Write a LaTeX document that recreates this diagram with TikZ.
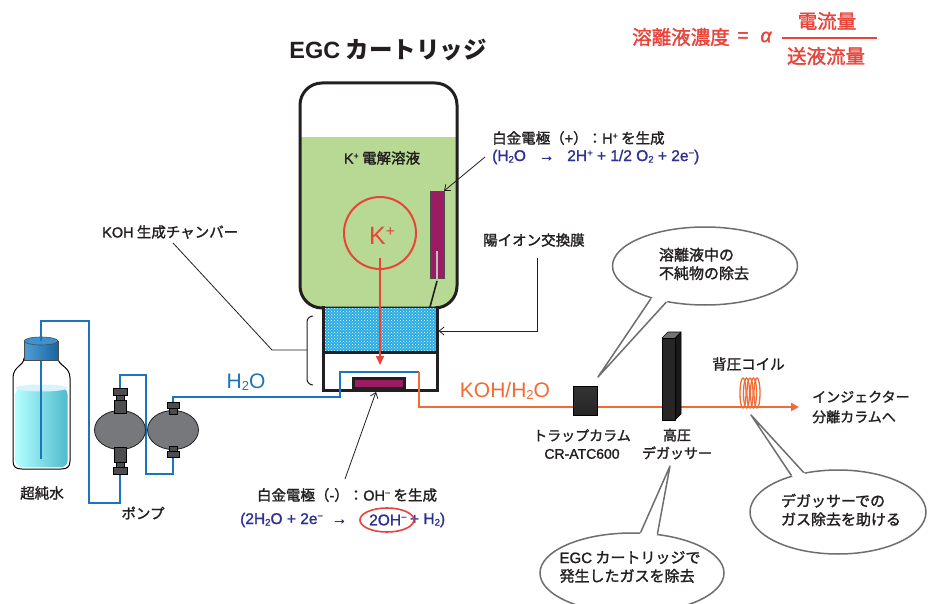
\documentclass[tikz,border=0pt]{standalone}
\usepackage{fontspec}
\usepackage{graphicx}
\setmainfont{Noto Sans CJK JP}
\newfontfamily\jpm{Noto Sans CJK JP}[FakeBold=1.6]
\newfontfamily\lat{Liberation Sans}
\newfontfamily\latm{Liberation Sans}[FakeBold=1.4]
\usetikzlibrary{arrows.meta,patterns,shapes.geometric,calc}

\definecolor{txt}{HTML}{231F20}
\definecolor{gel}{HTML}{B7D993}
\definecolor{mag}{HTML}{9B1C63}
\definecolor{kred}{HTML}{E9443A}
\definecolor{korange}{HTML}{F26B35}
\definecolor{tube}{HTML}{1C75BC}
\definecolor{navy}{HTML}{2E3192}
\definecolor{memb}{HTML}{27AAE1}
\definecolor{pumpgrey}{HTML}{77787B}
\definecolor{fitgrey}{HTML}{4D4D4F}
\definecolor{callgrey}{HTML}{6D6E71}

% Latin run inside Japanese text, raised and lowered indices
\newcommand\lx[1]{{\latm #1}}
\newcommand\upi[1]{\raisebox{0.6ex}{\scalebox{0.62}{#1}}}
\newcommand\dni[1]{\raisebox{-0.2ex}{\scalebox{0.62}{#1}}}

\begin{document}
\begin{tikzpicture}[x=1pt,y=-1pt,
  lbl/.style={font=\jpm\fontsize{14.5}{17}\selectfont, text=txt, inner sep=0pt},
  eqn/.style={font=\latm\fontsize{15.5}{18}\selectfont, text=navy, inner sep=0pt},
  formula/.style={font=\jpm\fontsize{19.5}{22}\selectfont, text=kred, inner sep=0pt},
  wall/.style={line width=3pt, draw=txt},
  leader/.style={line width=0.8pt, draw=txt},
  barb/.style={leader, -{Straight Barb[length=5pt,width=8pt]}},
  tubeline/.style={draw=tube, line width=2.5pt},
  eluent/.style={draw=korange, line width=2.5pt},
  fitting/.style={fill=fitgrey, draw=black, line width=0.6pt},
  callout/.style={ellipse, draw=callgrey, line width=1.5pt, fill=white, inner sep=0pt},
  tail/.style={draw=callgrey, line width=1.5pt, line join=round},
  calltext/.style={lbl, align=left, font=\jpm\fontsize{15}{18.5}\selectfont}
]
\clip (0,0) rectangle (931,604);
\fill[white] (0,0) rectangle (931,604);

% ---------- concentration formula ----------
\node[formula, anchor=west] (conc) at (632,37) {溶離液濃度};
\node[formula] (eqsign) at (743,37) {\lx{=}};
\node[formula] (alpha) at (766,37) {\lx{\itshape α}};
\coordinate (fracL) at (782,38);
\coordinate (fracR) at (877,38);
\draw[kred, line width=1.8pt] (fracL) -- (fracR);
\node[formula] (num) at (827,21) {電流量};
\node[formula] (den) at (826,56) {送液流量};

% ---------- EGC cartridge ----------
\node[font=\bfseries\fontsize{23.5}{27}\selectfont, text=txt, inner sep=0pt] (title) at (388,50) {{\lat\bfseries EGC} カートリッジ};

\begin{scope}
  \clip[rounded corners=22pt] (300,83) rectangle (457,308);
  \fill[gel] (300,137) rectangle (457,308);
\end{scope}
\draw[wall, rounded corners=22pt] (300,83) rectangle (457,308);
\node[lbl] (electrolyte) at (382,158) {\lx{K\upi{+}} 電解溶液};

% anode inside the cartridge
\node[fill=mag, draw=black!70, line width=0.8pt, minimum width=14pt, minimum height=87pt, inner sep=0pt, outer sep=0pt] (anode) at (437,234.5) {};
\draw[black!25, line width=1.6pt] (437,251) -- (437,280);
\coordinate (wireA) at (437,281);
\coordinate (wireB) at (430,307);
\draw[txt, line width=1.6pt] (wireA) -- (wireB);

% K+ ion
\node[circle, draw=kred, line width=2pt, minimum size=72pt, inner sep=0pt] (kcircle) at (380,233) {};
\node[text=kred, font=\lat\fontsize{25}{28}\selectfont, inner sep=0pt] (klabel) at (382,236) {K\upi{+}};

% KOH generation chamber
\fill[memb] (323,308) rectangle (437,352);
\fill[pattern=crosshatch dots, pattern color=white] (323,308) rectangle (437,352);
\draw[wall] (323,306) -- (323,390) -- (437,390) -- (437,306);
\draw[wall] (323,352) -- (437,352);
\node[fill=mag, draw=txt, line width=2.6pt, minimum width=51pt, minimum height=10.5pt, inner sep=0pt] (cathode) at (379,383.5) {};

\coordinate (kstart) at (380,258);
\coordinate (kend) at (380,365);
\draw[kred, line width=2pt, -{Triangle[length=9pt,width=8pt]}] (kstart) -- (kend);

% ---------- water bottle ----------
\draw[line width=1pt, fill=white] (24,358) .. controls (24,366) and (13,366) .. (13,378) -- (13,461)
  .. controls (13,467) and (16,469) .. (22,469) -- (61,469) .. controls (67,469) and (70,467) .. (70,461)
  -- (70,378) .. controls (70,366) and (58,366) .. (58,358);
\shade[left color=cyan!30!white, middle color=cyan!12!white, right color={rgb,255:red,80;green,186;blue,204}, rounded corners=6pt]
  (15.5,388) rectangle (67.5,467);
\fill[cyan!15!white] (41.5,388) ellipse [x radius=26pt, y radius=3.5pt];

% ---------- tubing (water side) ----------
\coordinate (bottleIn) at (41,459);
\coordinate (pump1Bot) at (120,473);
\draw[tubeline] (bottleIn) -- (41,321) -- (89,321) -- (89,503) -- (120,503) -- (pump1Bot);
\shade[left color={rgb,255:red,80;green,160;blue,215}, right color={rgb,255:red,25;green,100;blue,160}, draw=black!70, line width=0.6pt] (24,341) rectangle (58,360);
\filldraw[fill={rgb,255:red,60;green,146;blue,207}, draw=black!70, line width=0.6pt] (41,341) ellipse [x radius=17pt, y radius=4pt];
\draw[tubeline] (41,341) -- (41,321);

\coordinate (pump1Top) at (120,388);
\coordinate (pump2Bot) at (173,457);
\draw[tubeline] (pump1Top) -- (120,375) -- (146,375) -- (146,474) -- (173,474) -- (pump2Bot);

\coordinate (pump2Top) at (173,402);
\coordinate (inletUp) at (340,397);
\coordinate (inletEnd) at (419,372);
\draw[tubeline] (pump2Top) -- (173,397) -- (inletUp) -- (340,372) -- (inletEnd);

% ---------- eluent line ----------
\coordinate (outletEnd) at (799,407);
\draw[eluent, -{Triangle[length=8pt,width=8pt]}] (inletEnd) -- (419,407) -- (outletEnd);

% ---------- pump heads ----------
\filldraw[fill=pumpgrey, draw=txt, line width=0.8pt] (120,430) ellipse [x radius=25.5pt, y radius=19.5pt];
\filldraw[fill=pumpgrey, draw=txt, line width=0.8pt] (173,430) ellipse [x radius=25.5pt, y radius=19.5pt];
\filldraw[fitting] (113,388) rectangle (127,395);
\filldraw[fitting] (116,395) rectangle (124,400);
\filldraw[fitting] (114,400) rectangle (126,413);
\filldraw[fitting] (114,447) rectangle (126,462);
\filldraw[fitting] (116,462) rectangle (124,467);
\filldraw[fitting] (113,467) rectangle (127,474);
\filldraw[fitting] (167,402) rectangle (179,408);
\filldraw[fitting] (169,408) rectangle (177,414);
\filldraw[fitting] (169,446) rectangle (177,451);
\filldraw[fitting] (167,451) rectangle (179,457);

% ---------- trap column, degasser, back-pressure coil ----------
\node[draw=black, line width=0.8pt, minimum width=24pt, minimum height=29pt, inner sep=0pt,
  top color=black!80, middle color=black!45, bottom color=black!85] (trap) at (585,400.5) {};
\fill[black!55] (662,338) -- (668,332) -- (681,332) -- (675,338) -- cycle;
\fill[black!90] (675,338) -- (681,332) -- (681,414) -- (675,420) -- cycle;
\node[draw=black, line width=0.8pt, minimum width=13pt, minimum height=82pt, inner sep=0pt,
  left color=black!85, middle color=black!40, right color=black!85] (degas) at (668.5,379) {};
\draw[black, line width=0.6pt] (662,338) -- (668,332) -- (681,332) -- (681,414) -- (675,420);
\draw[black, line width=0.6pt] (675,338) -- (681,332);
\foreach \cx in {743,746.5,750,753.5,757}
  \draw[korange, line width=1.3pt] (\cx,393) ellipse [x radius=3pt, y radius=15pt];
\coordinate (coil) at (750,408);

% ---------- labels ----------
\node[lbl] (water) at (42,493) {超純水};
\node[lbl] (pump) at (143,513) {ポンプ};
\node[lbl, anchor=west] (chamberlbl) at (102,232) {\lx{KOH} 生成チャンバー};
\node[lbl, anchor=west] (anodelbl) at (492,138) {白金電極（\lx{+}）：\lx{H\upi{+}} を生成};
\node[eqn, anchor=west] (anodeeq) at (492,157) {(H\dni{2}O \ \ → \ \ 2H\upi{+} + 1/2 O\dni{2} + 2e\upi{−})};
\node[lbl, anchor=west] (memblbl) at (483,240) {陽イオン交換膜};
\node[text=tube, font=\lat\fontsize{21}{24}\selectfont, inner sep=0pt] (h2o) at (246,382) {H\dni{2}O};
\node[text=korange, font=\lat\fontsize{21}{24}\selectfont, inner sep=0pt] (koh) at (505,391) {KOH/H\dni{2}O};
\node[lbl, align=center, font=\jpm\fontsize{14}{18}\selectfont] (traplbl) at (582,444) {トラップカラム\\\lx{CR-ATC600}};
\node[lbl, align=center, font=\jpm\fontsize{14}{18}\selectfont] (degaslbl) at (677,444) {高圧\\デガッサー};
\node[lbl, anchor=west] (coillbl) at (712,364) {背圧コイル};
\node[lbl, anchor=west, align=left, font=\jpm\fontsize{14}{20}\selectfont] (tocol) at (812,407) {インジェクター\\分離カラムへ};
\node[lbl] (cathodelbl) at (347,495) {白金電極（\lx{-}）：\lx{OH\upi{−}} を生成};
\node[eqn, anchor=west] (cateqA) at (240,520) {(2H\dni{2}O + 2e\upi{−} \ →};
\node[eqn, anchor=west] (cateqB) at (369,520) {2OH\upi{−}};
\node[eqn, anchor=west] (cateqC) at ($(cateqB.east)+(3,0)$) {+ H\dni{2})};
\draw[kred, line width=1.6pt] ($(cateqB.center)+(-1,0)$) ellipse [x radius=27pt, y radius=12pt];

% ---------- leader lines ----------
\coordinate (anodelead) at (485,157);
\draw[barb] (anodelead) -- (anode.north east);
\coordinate (membbend) at (537,331);
\draw[barb] (537,258) -- (membbend) -- (438.5,331);
\coordinate (chamberbend) at (272,350);
\draw[leader] (173,243) -- (chamberbend) -- (307,350);
\draw[leader, line width=1pt] (313,316) to[out=180,in=90] (307,322) -- (307,379) to[out=-90,in=180] (313,385);
\coordinate (cathodelead) at (345,479);
\draw[barb] (cathodelead) -- (376,392);

% ---------- callouts ----------
\node[callout, minimum width=185pt, minimum height=78pt] (cb1) at (705,266) {};
\coordinate (t1) at (598,377);
\fill[white] (cb1.center) -- (cb1.211) -- (t1) -- (cb1.223) -- cycle;
\draw[tail] (cb1.211) -- (t1) -- (cb1.223);
\node[calltext] (cb1text) at (704,264) {溶離液中の\\不純物の除去};

\node[callout, minimum width=176pt, minimum height=84pt] (cb2) at (838,512) {};
\coordinate (t2) at (751,415);
\fill[white] (cb2.center) -- (cb2.142) -- (t2) -- (cb2.131) -- cycle;
\draw[tail] (cb2.142) -- (t2) -- (cb2.131);
\node[calltext] (cb2text) at (841,510) {デガッサーでの\\ガス除去を助ける};

\node[callout, minimum width=184pt, minimum height=80pt] (cb3) at (632,573) {};
\coordinate (t3) at (670,466);
\fill[white] (cb3.center) -- (cb3.78) -- (t3) -- (cb3.57) -- cycle;
\draw[tail] (cb3.78) -- (t3) -- (cb3.57);
\node[calltext] (cb3text) at (630,567) {\lx{EGC} カートリッジで\\発生したガスを除去};
\end{tikzpicture}
\end{document}
